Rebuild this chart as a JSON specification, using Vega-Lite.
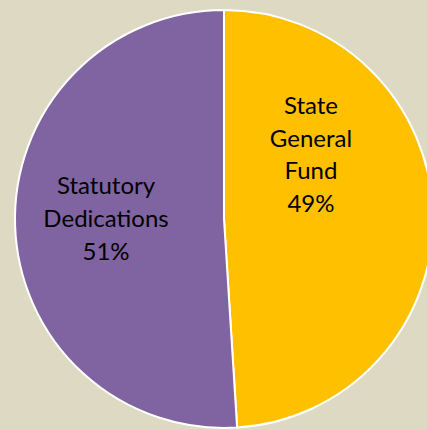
{
  "$schema": "https://vega.github.io/schema/vega-lite/v6.json",
  "width": 448,
  "height": 438,
  "padding": 0,
  "autosize": "none",
  "background": "#DDD9C3",
  "view": {"stroke": null},
  "data": {
    "values": [
      {"source": "State General Fund", "pct": 49, "label": "State\nGeneral\nFund\n49%"},
      {"source": "Statutory Dedications", "pct": 51, "label": "Statutory\nDedications\n51%"}
    ]
  },
  "encoding": {
    "theta": {"field": "pct", "type": "quantitative", "stack": true},
    "order": {"field": "source", "sort": "ascending"},
    "color": {
      "field": "source",
      "type": "nominal",
      "scale": {"domain": ["State General Fund", "Statutory Dedications"], "range": ["#FFC000", "#8064A2"]},
      "legend": null
    }
  },
  "layer": [
    {"mark": {"type": "arc", "outerRadius": 209, "stroke": "#FFFFFF", "strokeWidth": 2}},
    {
      "mark": {"type": "text", "radius": 87, "dy": -109, "font": "Lato", "fontSize": 24, "lineHeight": 32.5, "lineBreak": "\n", "align": "center", "baseline": "middle"},
      "encoding": {
        "text": {"condition": {"test": "datum.source === 'State General Fund'", "field": "label"}, "value": ""},
        "color": {"value": "#000000"}
      }
    },
    {
      "mark": {"type": "text", "radius": 118, "dy": -36, "font": "Lato", "fontSize": 24, "lineHeight": 33, "lineBreak": "\n", "align": "center", "baseline": "middle"},
      "encoding": {
        "text": {"condition": {"test": "datum.source === 'Statutory Dedications'", "field": "label"}, "value": ""},
        "color": {"value": "#000000"}
      }
    }
  ]
}
